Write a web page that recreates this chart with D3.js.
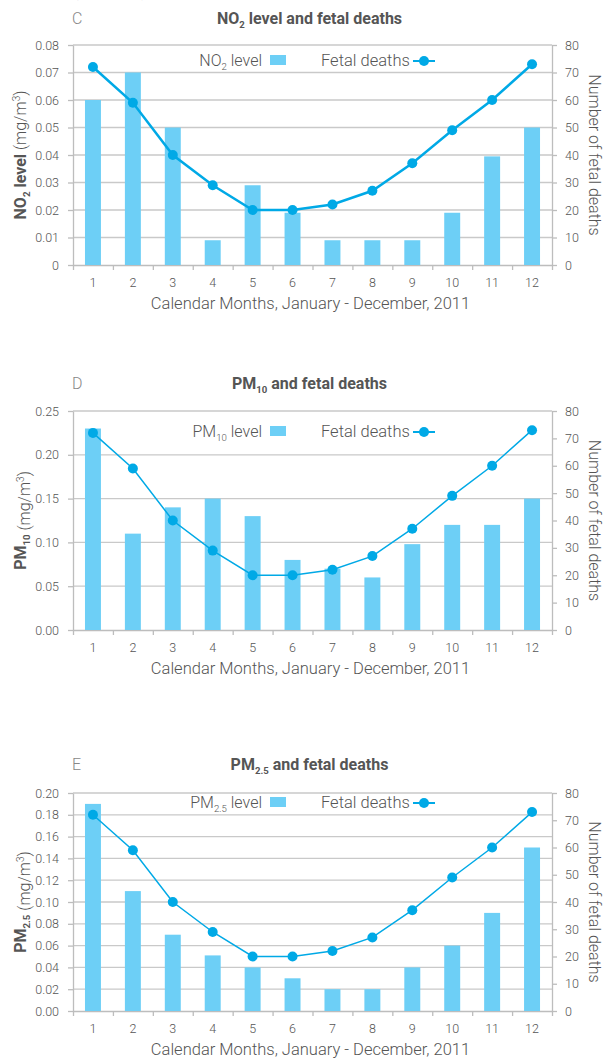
<!DOCTYPE html>
<html>
<head>
<meta charset="utf-8">
<script src="https://cdn.jsdelivr.net/npm/d3@7"></script>
<style>
  body { margin: 0; background: #fff; }
  svg { display: block; font-family: Roboto, "Liberation Sans", sans-serif; }
</style>
</head>
<body>
<script>
// values
const months = [1, 2, 3, 4, 5, 6, 7, 8, 9, 10, 11, 12];
const no2Level = [0.06, 0.07, 0.05, 0.009, 0.029, 0.019, 0.009, 0.009, 0.009, 0.019, 0.0395, 0.05];
const pm10Level = [0.23, 0.11, 0.14, 0.15, 0.13, 0.08, 0.07, 0.06, 0.098, 0.12, 0.12, 0.15];
const pm25Level = [0.19, 0.11, 0.07, 0.051, 0.04, 0.03, 0.02, 0.02, 0.04, 0.06, 0.09, 0.15];
const fetalDeaths = [72, 59, 40, 29, 20, 20, 22, 27, 37, 49, 60, 73];

const no2Ticks = [0, 0.01, 0.02, 0.03, 0.04, 0.05, 0.06, 0.07, 0.08];
const pm10Ticks = [0, 0.05, 0.10, 0.15, 0.20, 0.25];
const pm25Ticks = [0, 0.02, 0.04, 0.06, 0.08, 0.10, 0.12, 0.14, 0.16, 0.18, 0.20];
const deathTicks = [0, 10, 20, 30, 40, 50, 60, 70, 80];

const barColor = '#6dcff6';
const lineColor = '#00a9e6';
const gridColor = '#c9c9c9';
const textColor = '#555';

const left = 73, right = 552;

const svg = d3.select('body').append('svg')
  .attr('width', 608)
  .attr('height', 1060);

// figure caption, mostly cut off at the top like in the source page
svg.append('text')
  .attr('x', 19).attr('y', -3)
  .attr('font-size', 14).attr('font-weight', 'bold').attr('fill', '#666')
  .text('Figure 2 (continued)');

const panels = [
  { letter: 'C', base: 'NO', sub: '2', leftBold: ' level', levels: no2Level, ticks: no2Ticks,
    fmt: d => d === 0 ? '0' : d.toFixed(2), top: 45, bottom: 265, titleY: 24, legendY: 66, lineW: 2.5 },
  { letter: 'D', base: 'PM', sub: '10', leftBold: '', levels: pm10Level, ticks: pm10Ticks,
    fmt: d => d.toFixed(2), top: 411, bottom: 630, titleY: 389, legendY: 437, lineW: 1.5 },
  { letter: 'E', base: 'PM', sub: '2.5', leftBold: '', levels: pm25Level, ticks: pm25Ticks,
    fmt: d => d.toFixed(2), top: 793, bottom: 1011, titleY: 770, legendY: 808, lineW: 1.5 }
];

function styleAxis(sel) {
  sel.attr('font-family', null).attr('font-size', 12.5);
  sel.selectAll('.domain').attr('stroke', '#bdbdbd').attr('stroke-width', 1.3);
  sel.selectAll('.tick line').attr('stroke', '#bdbdbd').attr('stroke-width', 1.3);
  sel.selectAll('.tick text').attr('fill', textColor).attr('font-weight', 300);
}

// pollutant name with subscript, appended as tspans
function addName(text, p, size, bold) {
  text.append('tspan').attr('font-weight', bold ? 'bold' : 300).text(p.base);
  text.append('tspan').attr('font-size', size * 0.6).attr('dy', size * 0.28)
    .attr('font-weight', bold ? 'bold' : 300).text(p.sub);
  return text.append('tspan').attr('dy', -size * 0.28);
}

function drawPanel(p) {
  const g = svg.append('g');
  const mid = (p.top + p.bottom) / 2;
  const cx = (left + right) / 2;

  const x = d3.scaleBand().domain(months).range([left, right])
    .paddingInner(0.6).paddingOuter(0.3);
  const xEdge = d3.scaleLinear().domain([0, months.length]).range([left, right]);
  const y = d3.scaleLinear().domain([0, d3.max(p.ticks)]).range([p.bottom, p.top]);
  const y2 = d3.scaleLinear().domain([0, d3.max(deathTicks)]).range([p.bottom, p.top]);

  // horizontal grid
  g.append('g').selectAll('line')
    .data(p.ticks.slice(1))
    .join('line')
    .attr('x1', left).attr('x2', right)
    .attr('y1', d => y(d)).attr('y2', d => y(d))
    .attr('stroke', gridColor).attr('stroke-width', 1.3);

  g.append('g')
    .attr('transform', `translate(${left},0)`)
    .call(d3.axisLeft(y).tickValues(p.ticks).tickFormat(p.fmt)
      .tickSize(5).tickSizeOuter(0).tickPadding(9))
    .call(styleAxis);

  g.append('g')
    .attr('transform', `translate(${right},0)`)
    .call(d3.axisRight(y2).tickValues(deathTicks)
      .tickSize(5).tickSizeOuter(0).tickPadding(8))
    .call(styleAxis);

  // tick marks between months
  g.append('g')
    .attr('transform', `translate(0,${p.bottom})`)
    .call(d3.axisBottom(xEdge).ticks(months.length).tickFormat('')
      .tickSize(5).tickSizeOuter(0))
    .call(styleAxis);

  // month labels
  g.append('g')
    .attr('transform', `translate(0,${p.bottom})`)
    .call(d3.axisBottom(x).tickSize(0).tickPadding(13))
    .call(styleAxis)
    .call(a => a.select('.domain').remove());

  // bars
  g.append('g').selectAll('rect')
    .data(p.levels)
    .join('rect')
    .attr('x', (d, i) => x(months[i]))
    .attr('y', d => y(d))
    .attr('width', x.bandwidth())
    .attr('height', d => p.bottom - y(d))
    .attr('fill', barColor);

  // fetal deaths line
  const line = d3.line()
    .x((d, i) => x(months[i]) + x.bandwidth() / 2)
    .y(d => y2(d));

  g.append('path')
    .datum(fetalDeaths)
    .attr('d', line)
    .attr('fill', 'none')
    .attr('stroke', lineColor)
    .attr('stroke-width', p.lineW);

  g.append('g').selectAll('circle')
    .data(fetalDeaths)
    .join('circle')
    .attr('cx', (d, i) => x(months[i]) + x.bandwidth() / 2)
    .attr('cy', d => y2(d))
    .attr('r', 5)
    .attr('fill', lineColor);

  // panel letter and title
  g.append('text')
    .attr('x', 72).attr('y', p.titleY)
    .attr('font-size', 16).attr('font-weight', 300).attr('fill', '#888')
    .text(p.letter);

  const title = g.append('text')
    .attr('x', cx - 3).attr('y', p.titleY)
    .attr('text-anchor', 'middle')
    .attr('font-size', 16).attr('font-weight', 'bold').attr('fill', textColor);
  addName(title, p, 16, true).text((p.leftBold ? ' level' : '') + ' and fetal deaths');

  // legend
  const legText = g.append('text')
    .attr('x', 262).attr('y', p.legendY)
    .attr('text-anchor', 'end')
    .attr('font-size', 16).attr('fill', textColor);
  addName(legText, p, 16, false).attr('font-weight', 300).text(' level');

  g.append('rect')
    .attr('x', 270).attr('y', p.legendY - 11)
    .attr('width', 16).attr('height', 10)
    .attr('fill', barColor);

  g.append('text')
    .attr('x', 321).attr('y', p.legendY)
    .attr('font-size', 16.5).attr('font-weight', 300).attr('fill', textColor)
    .text('Fetal deaths');

  g.append('line')
    .attr('x1', 413).attr('x2', 435)
    .attr('y1', p.legendY - 5).attr('y2', p.legendY - 5)
    .attr('stroke', lineColor).attr('stroke-width', 2);
  g.append('circle')
    .attr('cx', 424).attr('cy', p.legendY - 5).attr('r', 5)
    .attr('fill', lineColor);

  // axis titles
  const yTitle = g.append('text')
    .attr('transform', `translate(26,${mid}) rotate(-90)`)
    .attr('text-anchor', 'middle')
    .attr('font-size', 16).attr('fill', textColor);
  const after = addName(yTitle, p, 16, true);
  if (p.leftBold) after.attr('font-weight', 'bold').text(p.leftBold);
  yTitle.append('tspan').attr('font-weight', 300).text(' (mg/m');
  yTitle.append('tspan').attr('font-weight', 300).attr('font-size', 10).attr('dy', -6).text('3');
  yTitle.append('tspan').attr('font-weight', 300).attr('dy', 6).text(')');

  g.append('text')
    .attr('transform', `translate(589,${mid}) rotate(90)`)
    .attr('text-anchor', 'middle')
    .attr('font-size', 16).attr('font-weight', 300).attr('fill', textColor)
    .text('Number of fetal deaths');

  g.append('text')
    .attr('x', cx - 2).attr('y', p.bottom + 44)
    .attr('text-anchor', 'middle')
    .attr('font-size', 16.5).attr('font-weight', 300).attr('fill', textColor)
    .text('Calendar Months, January - December, 2011');
}

panels.forEach(drawPanel);
</script>
</body>
</html>
